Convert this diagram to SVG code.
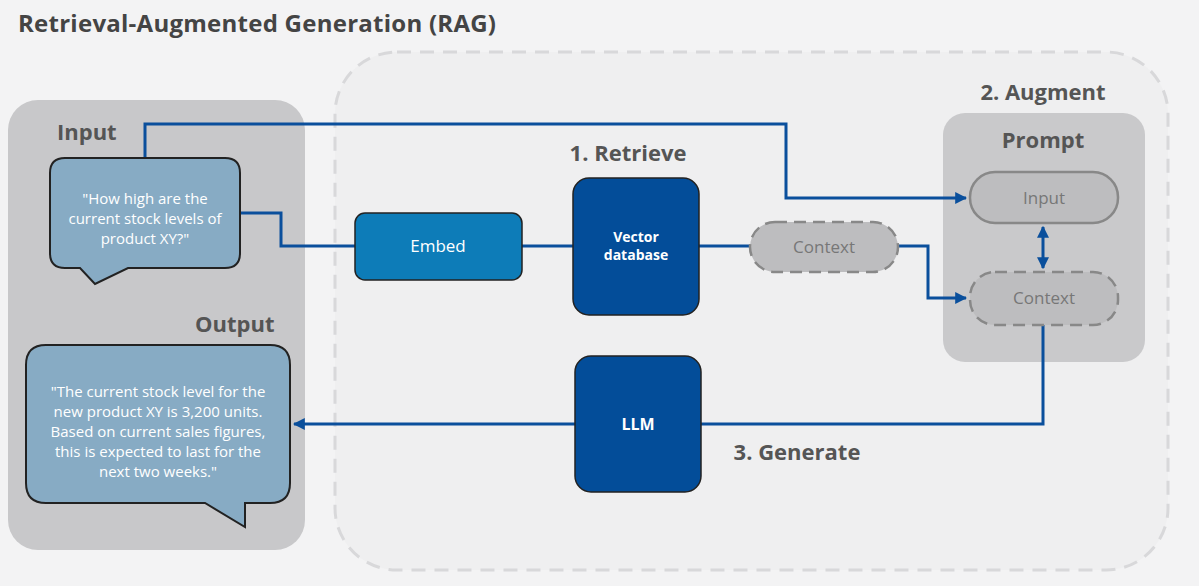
<svg xmlns="http://www.w3.org/2000/svg" width="1199" height="586" viewBox="0 0 1199 586">
<style>
.t{font-family:"Open Sans","Liberation Sans",sans-serif}
.h{font-weight:bold;fill:#555;font-size:22px}
.bub{fill:#87abc4;stroke:#222;stroke-width:2}
.bt{fill:#fff;font-size:15px;text-anchor:middle}
.box{stroke:#222;stroke-width:1.5}
.pill{fill:#bdbdbf;stroke:#888;stroke-width:2.5}
.pt{fill:#777;font-size:17px;text-anchor:middle}
.c{fill:none;stroke:#0a4f9c;stroke-width:3}
</style>
<defs><marker id="a" viewBox="0 0 10 10" refX="9" refY="5" markerWidth="4" markerHeight="4" orient="auto-start-reverse"><path d="M0,0L10,5L0,10z" fill="#0a4f9c"/></marker></defs>
<rect width="1199" height="586" fill="#f3f3f4"/>
<text class="t" x="18" y="32" font-size="24" font-weight="bold" fill="#444" textLength="478">Retrieval-Augmented Generation (RAG)</text>
<rect x="335" y="52" width="833" height="518" rx="62" fill="#efeff0" stroke="#d8d8da" stroke-width="3" stroke-dasharray="14 9"/>
<rect x="8" y="100" width="297" height="450" rx="30" fill="#c8c8ca"/>
<rect x="943" y="113" width="202" height="249" rx="22" fill="#c9c9cb"/>
<text class="t h" x="57" y="140" font-size="20">Input</text>
<text class="t h" x="195" y="332" font-size="20">Output</text>
<text class="t h" x="628" y="161" text-anchor="middle">1. Retrieve</text>
<text class="t h" x="1043" y="100" text-anchor="middle">2. Augment</text>
<text class="t h" x="797" y="460" text-anchor="middle">3. Generate</text>
<text class="t h" x="1043" y="148" text-anchor="middle" font-size="19">Prompt</text>
<g id="connectors">
<path class="c" d="M145,158V124H786V198H966" marker-end="url(#a)"/>
<path class="c" d="M240,213H281V246H355"/>
<path class="c" d="M522,246H573"/>
<path class="c" d="M699,246H750"/>
<path class="c" d="M898,246H928V298H966" marker-end="url(#a)"/>
<path class="c" d="M1043,227V268" marker-start="url(#a)" marker-end="url(#a)"/>
<path class="c" d="M1043,325V424H701"/>
<path class="c" d="M575,424H294" marker-end="url(#a)"/>
</g>
<g id="input-bubble">
<path class="bub" d="M65,158H225Q240,158 240,173V253Q240,268 225,268H128L95,284L80,268H65Q50,268 50,253V173Q50,158 65,158Z"/>
<text class="t bt" x="145" y="204">"How high are the</text>
<text class="t bt" x="145" y="224">current stock levels of</text>
<text class="t bt" x="145" y="244">product XY?"</text>
</g>
<g id="output-bubble">
<path class="bub" d="M46,345H270Q290,345 290,365V483Q290,503 270,503H245V527L205,503H46Q26,503 26,483V365Q26,345 46,345Z"/>
<text class="t bt" x="158" y="397">"The current stock level for the</text>
<text class="t bt" x="158" y="417">new product XY is 3,200 units.</text>
<text class="t bt" x="158" y="437">Based on current sales figures,</text>
<text class="t bt" x="158" y="457">this is expected to last for the</text>
<text class="t bt" x="158" y="477">next two weeks."</text>
</g>
<g id="embed"><rect class="box" x="355" y="213" width="167" height="67" rx="10" fill="#0d7cb8"/><text class="t" x="438" y="252" font-size="17" fill="#fff" text-anchor="middle">Embed</text></g>
<g id="vector-db"><rect class="box" x="573" y="178" width="126" height="137" rx="16" fill="#034d99"/><text class="t" x="636" y="242" font-size="14" font-weight="bold" fill="#fff" text-anchor="middle">Vector</text><text class="t" x="636" y="260" font-size="14" font-weight="bold" fill="#fff" text-anchor="middle">database</text></g>
<g id="llm"><rect class="box" x="575" y="356" width="126" height="136" rx="16" fill="#034d99"/><text class="t" x="638" y="430" font-size="16" font-weight="bold" fill="#fff" text-anchor="middle">LLM</text></g>
<g id="context-retrieved"><rect class="pill" x="750" y="222" width="148" height="50" rx="25" stroke-dasharray="12 7"/><text class="t pt" x="824" y="253">Context</text></g>
<g id="prompt-input"><rect class="pill" x="970" y="172" width="148" height="51" rx="25"/><text class="t pt" x="1044" y="204">Input</text></g>
<g id="prompt-context"><rect class="pill" x="970" y="272" width="148" height="53" rx="25" stroke-dasharray="12 7"/><text class="t pt" x="1044" y="304">Context</text></g>
</svg>
